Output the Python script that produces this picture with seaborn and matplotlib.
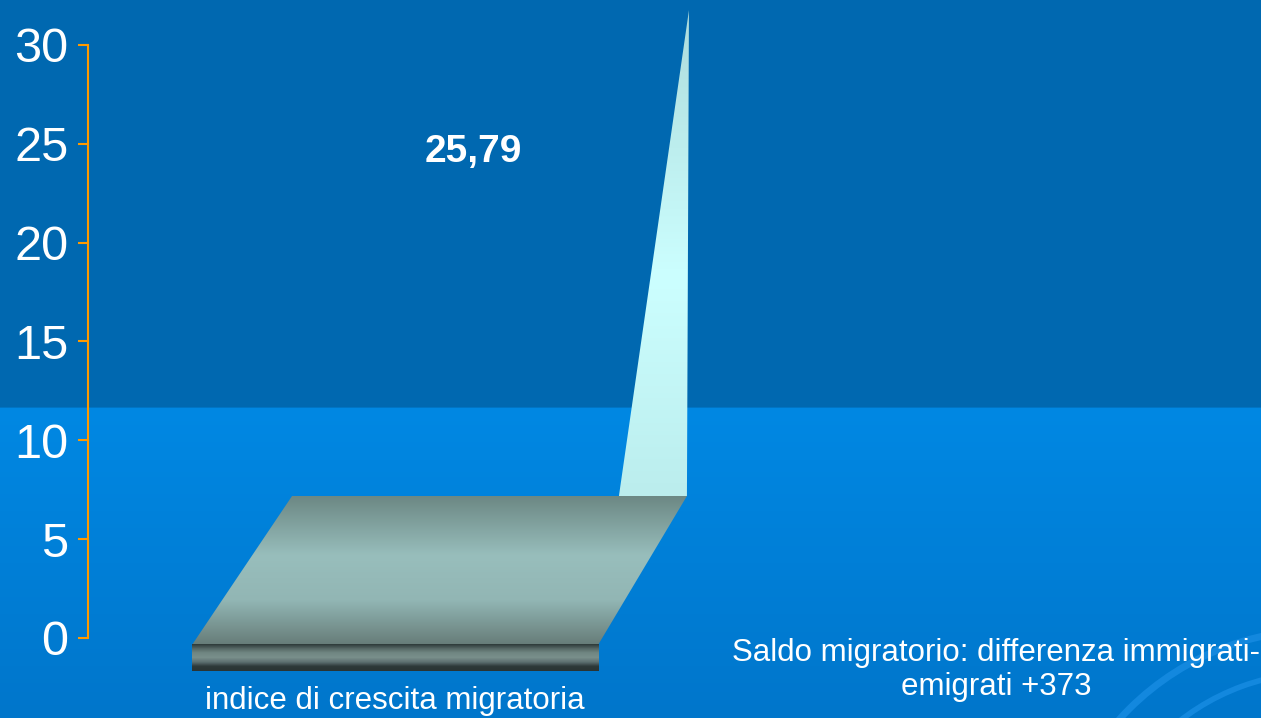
import numpy as np
import pandas as pd
import matplotlib
matplotlib.use('Agg')
import matplotlib.pyplot as plt
from matplotlib.patches import Polygon, Arc
from matplotlib.colors import to_rgb
import seaborn as sns

categories = ['indice di crescita migratoria']
values = [25.79]
yticks = [0, 5, 10, 15, 20, 25, 30]
note = 'Saldo migratorio: differenza immigrati-\nemigrati +373'

plt.rcParams['font.family'] = ['Liberation Sans', 'DejaVu Sans']


def vgrad(stops, n=300):
    # stops: list of (pos, colour), pos 0 = top, 1 = bottom
    pos = np.array([s[0] for s in stops])
    cols = np.array([to_rgb(s[1]) for s in stops])
    t = np.linspace(0, 1, n)
    img = np.stack([np.interp(t, pos, cols[:, k]) for k in range(3)], axis=1)
    return img[:, None, :]


fig = plt.figure(figsize=(12.61, 7.18), dpi=100)

# background of the slide
bg = fig.add_axes([0, 0, 1, 1], zorder=0)
bg.set_xlim(0, 1261)
bg.set_ylim(718, 0)
bg.axis('off')
split = 408 / 718
bg.imshow(vgrad([(0, '#0068B0'), (split - 0.001, '#0068B0'), (split, '#0088E3'),
                 (1, '#0076CB')], n=718),
          extent=[0, 1261, 718, 0], aspect='auto')
arc_col = '#1388DE'
bg.add_patch(Arc((1320, 900), 540, 540, theta1=200, theta2=300, color=arc_col, lw=5))
bg.add_patch(Arc((1320, 900), 455, 455, theta1=200, theta2=300, color=arc_col, lw=4))
bg.add_patch(Arc((1320, 900), 385, 385, theta1=240, theta2=300, color=arc_col, lw=5,
                 linestyle=(0, (4, 3))))
bg.set_xlim(0, 1261)
bg.set_ylim(718, 0)

# chart
ax = fig.add_axes([88 / 1261, 0, 1 - 88 / 1261, 1], zorder=1)
ax.patch.set_alpha(0)
df = pd.DataFrame({'categoria': categories, 'valore': values})
sns.barplot(data=df, x='categoria', y='valore', ax=ax, width=0.8, color='#CCFFFF')

bar = ax.patches[0]
x0, w, h = bar.get_x(), bar.get_width(), bar.get_height()
bar.set_visible(False)

front_y, back_y, slab_y = -0.35, 7.18, -1.67
dxl, dxr = 0.197, 0.175
spike_w = 0.134
persp = 0.953

# floor of the 3D bar
floor = Polygon([(x0, front_y), (x0 + w, front_y), (x0 + w + dxr, back_y), (x0 + dxl, back_y)],
                closed=True, facecolor='none', edgecolor='none')
ax.add_patch(floor)
im = ax.imshow(vgrad([(0, '#6C8884'), (0.4, '#98BEBC'), (0.7, '#92B6B4'), (1, '#667C78')]),
               extent=[x0, x0 + w + dxl, front_y, back_y], aspect='auto', zorder=2)
im.set_clip_path(floor)

# front slab
ax.imshow(vgrad([(0, '#2C3838'), (0.12, '#4C5C5A'), (0.3, '#6E8480'), (0.5, '#7A908C'),
                 (0.7, '#56686A'), (0.82, '#2E3A3A'), (1, '#2A3434')], n=60),
          extent=[x0, x0 + w, slab_y, front_y], aspect='auto', zorder=2,
          interpolation='nearest')

# spike rising from the back
bx = x0 + w + dxr
top_y = back_y + persp * h
spike = Polygon([(bx - spike_w, back_y), (bx, back_y), (bx + 0.004, top_y)],
                closed=True, facecolor='none', edgecolor='none')
ax.add_patch(spike)
im2 = ax.imshow(vgrad([(0, '#ADDCDC'), (0.55, '#CCFFFF'), (1, '#BBEDED')]),
                extent=[bx - spike_w, bx + 0.004, back_y, top_y], aspect='auto', zorder=1.5)
im2.set_clip_path(spike)

ax.set_xlim(-0.605, 1.706)
ax.set_ylim(-4.05, 32.27)

ax.text(x0 + w / 2 + 0.154, h - 1.2, f'{h:.2f}'.replace('.', ','), color='white',
        fontsize=28, fontweight='bold', ha='center', va='center', zorder=3)
ax.text(x0 + w / 2, -3.2, categories[0], color='white', fontsize=22.5,
        ha='center', va='center')

for s in ['top', 'right', 'bottom']:
    ax.spines[s].set_visible(False)
ax.spines['left'].set_bounds(0, 30)
ax.spines['left'].set_color('#FF9900')
ax.spines['left'].set_linewidth(1.5)
ax.set_yticks(yticks)
ax.set_xticks([])
ax.tick_params(axis='y', colors='#FF9900', labelcolor='white', labelsize=35,
               length=7, width=1.5, pad=7)
ax.set_xlabel('')
ax.set_ylabel('')

fig.text(996 / 1261, 1 - 670 / 718, note, color='white', fontsize=22.5,
         ha='center', va='center', linespacing=1.15)

fig.savefig('out.png', dpi=100)
